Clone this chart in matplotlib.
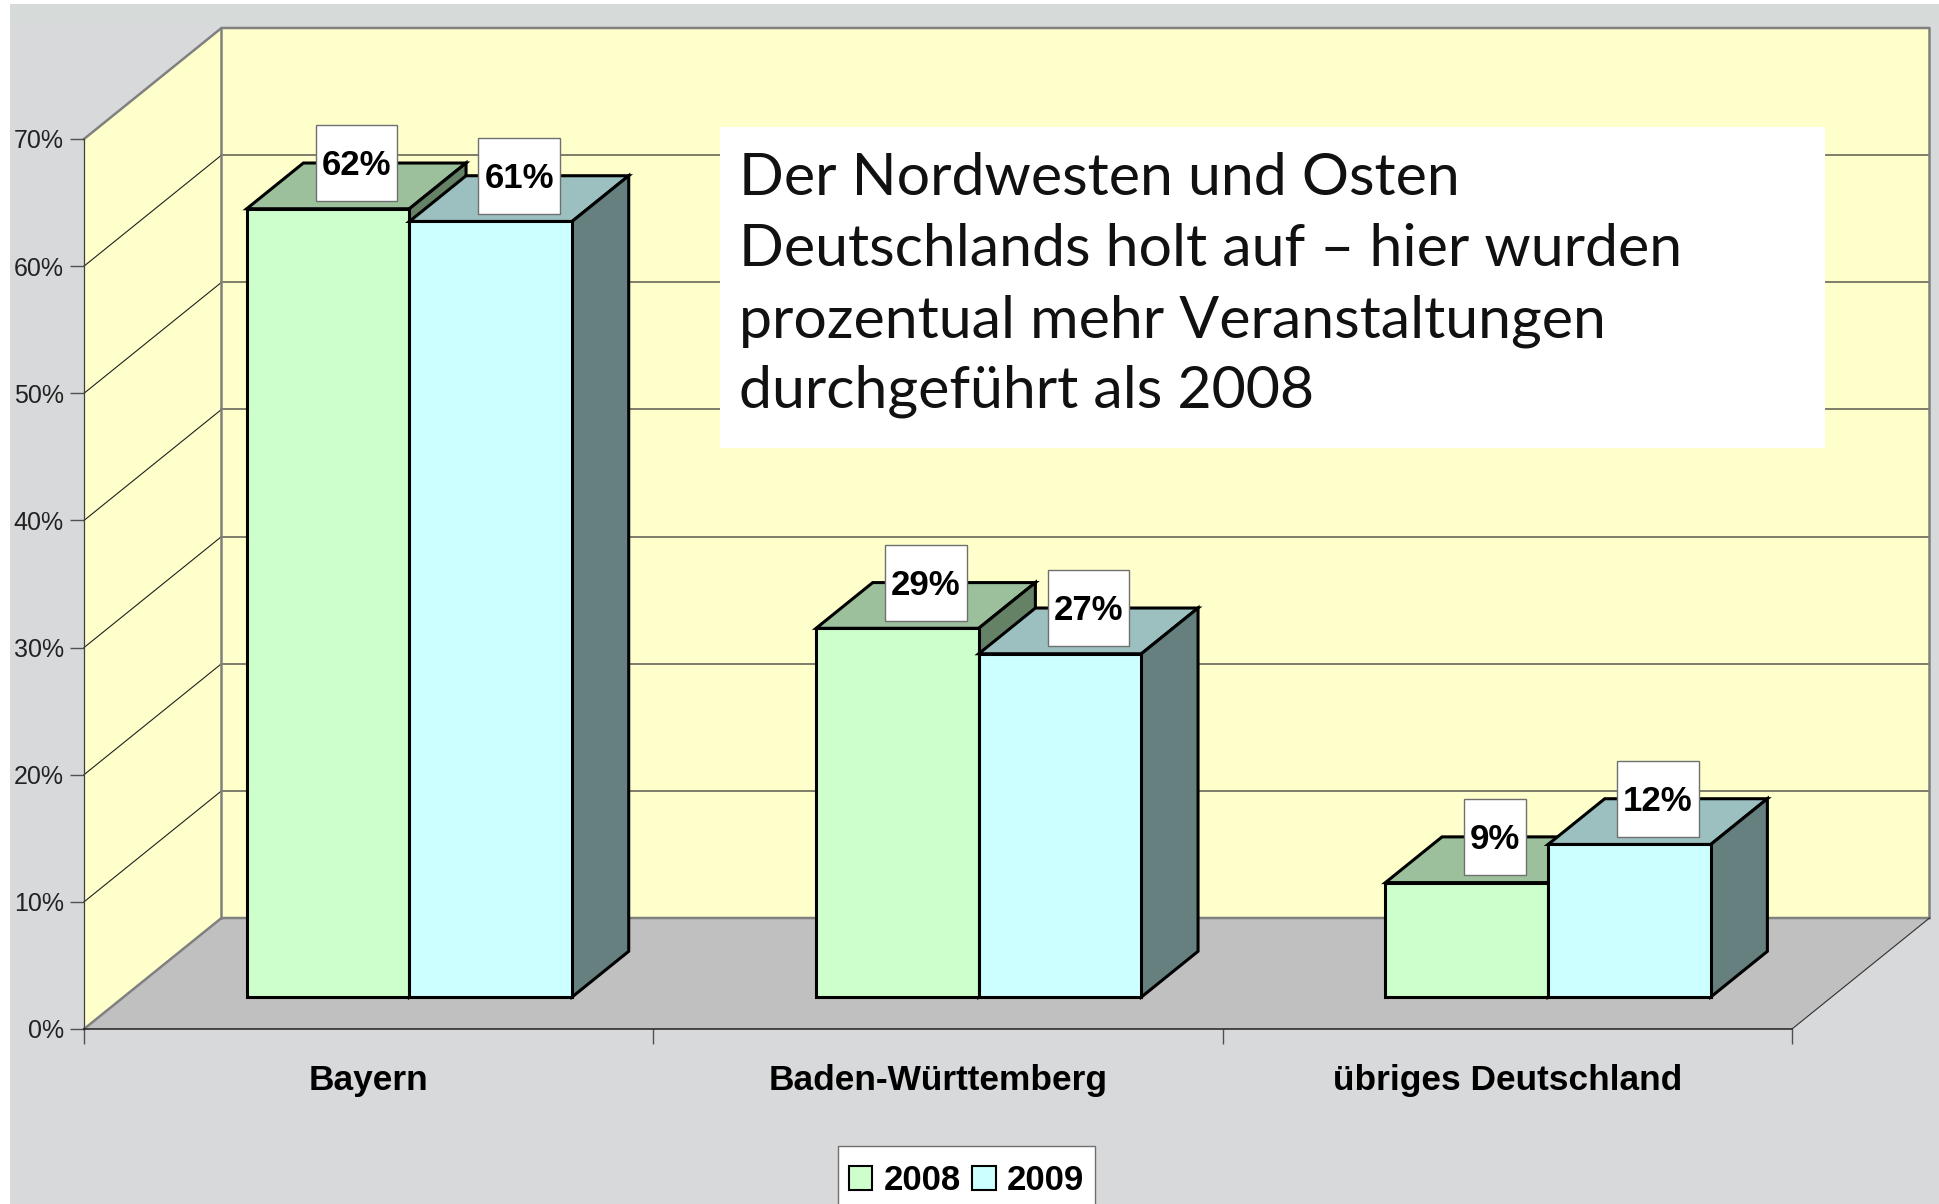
import matplotlib
matplotlib.use('Agg')
import matplotlib.pyplot as plt
from matplotlib.patches import Polygon, Rectangle, Patch

W, H = 1939, 1204

# data
categories = ['Bayern', 'Baden-Württemberg', 'übriges Deutschland']
series_names = ['2008', '2009']
values_2008 = [62, 29, 9]
values_2009 = [61, 27, 12]
y_ticks = [0, 10, 20, 30, 40, 50, 60, 70]
y_ticklabels = ['0%', '10%', '20%', '30%', '40%', '50%', '60%', '70%']
note_lines = ['Der Nordwesten und Osten',
              'Deutschlands holt auf – hier wurden',
              'prozentual mehr Veranstaltungen',
              'durchgeführt als 2008']

# colours per series: front, top, side
colors_2008 = ('#CCFFCC', '#9CC09C', '#668266')
colors_2009 = ('#CCFFFF', '#9CC0C0', '#668080')

# plot box in pixels
left, right, top, bottom = 84, 1792, 139, 1029
# oblique depth in axis units
depth_x = 137.5 / ((right - left) / 3)
depth_y = 111 / ((bottom - top) / 70)
bar_w = 1 / 3.5
bar_d0, bar_d1 = 0.288, 0.70


def px(x, y):
    return x / W, 1 - y / H


def proj(x, y, d=0.0):
    return x + d * depth_x, y + d * depth_y


fig = plt.figure(figsize=(W / 100, H / 100), dpi=100, facecolor='white')
plt.rcParams['font.family'] = ['Liberation Sans', 'DejaVu Sans']

# chart background
fig.patches.append(Rectangle(px(10, H), (W - 10) / W, (H - 4) / H, transform=fig.transFigure,
                             fc='#D8D9DB', ec='none', zorder=-5))
fig.patches.append(Rectangle(px(10, 26), (W - 10) / W, 22 / H, transform=fig.transFigure,
                             fc='#D6DAD9', ec='none', zorder=-4))

ax = fig.add_axes([left / W, 1 - bottom / H, (right - left) / W, (bottom - top) / H])
ax.patch.set_visible(False)
ax.set_xlim(0, 3)
ax.set_ylim(0, 70)


def poly(pts, fc, ec='none', lw=0.0, z=1):
    ax.add_patch(Polygon(pts, closed=True, fc=fc, ec=ec, lw=lw, zorder=z, clip_on=False,
                         joinstyle='miter'))


# walls and floor
poly([proj(0, 0, 1), proj(3, 0, 1), proj(3, 70, 1), proj(0, 70, 1)], '#FFFFCC')
poly([proj(0, 0), proj(0, 70), proj(0, 70, 1), proj(0, 0, 1)], '#FFFFCC')
poly([proj(0, 0), proj(0, 0, 1), proj(3, 0, 1), proj(3, 0)], '#C0C0C0')

# grid lines, back wall and side wall
for t in y_ticks[1:-1]:
    xs, ys = zip(proj(0, t), proj(0, t, 1), proj(3, t, 1))
    ax.plot(xs[:2], ys[:2], color='#202020', lw=0.8, clip_on=False, zorder=1.2)
    ax.plot(xs[1:], ys[1:], color='#5A5A50', lw=1.1, clip_on=False, zorder=1.2)

# wall edges
edges = [(proj(0, 70), proj(0, 70, 1), proj(3, 70, 1), proj(3, 0, 1)),
         (proj(0, 0), proj(0, 0, 1), proj(3, 0, 1)),
         (proj(0, 0, 1), proj(0, 70, 1))]
for e in edges:
    xs, ys = zip(*e)
    ax.plot(xs, ys, color='#808080', lw=1.8, clip_on=False, zorder=1.3)
xs, ys = zip(proj(3, 0), proj(3, 0, 1))
ax.plot(xs, ys, color='#303030', lw=0.8, clip_on=False, zorder=1.3)


def draw_bar(x0, val, cols):
    x1 = x0 + bar_w
    poly([proj(x0, val, bar_d0), proj(x1, val, bar_d0), proj(x1, val, bar_d1), proj(x0, val, bar_d1)],
         cols[1], 'black', 2.2, 2)
    poly([proj(x1, 0, bar_d0), proj(x1, val, bar_d0), proj(x1, val, bar_d1), proj(x1, 0, bar_d1)],
         cols[2], 'black', 2.2, 2)
    poly([proj(x0, 0, bar_d0), proj(x1, 0, bar_d0), proj(x1, val, bar_d0), proj(x0, val, bar_d0)],
         cols[0], 'black', 2.2, 2)


labels = []
for i in range(len(categories)):
    x0 = i + 0.75 * bar_w + 0.002
    for j, (v, c) in enumerate(zip((values_2008[i], values_2009[i]), (colors_2008, colors_2009))):
        xb = x0 + j * bar_w
        draw_bar(xb, v, c)
        # label sits over the middle of the bar's top face
        cx, cy = proj(xb + bar_w / 2, v, (bar_d0 + bar_d1) / 2)
        labels.append(ax.text(cx, cy + 1.8, f'{v}%', ha='center', va='center', fontsize=25,
                              fontweight='bold', color='black', zorder=4, clip_on=False))

# axes
for s in ('top', 'right'):
    ax.spines[s].set_visible(False)
ax.spines['left'].set_color('#404040')
ax.spines['left'].set_linewidth(0.9)
ax.spines['bottom'].set_color('#202020')
ax.spines['bottom'].set_linewidth(1.1)
ax.set_yticks(y_ticks, y_ticklabels)
ax.tick_params(axis='y', length=10, width=1.0, color='#505050', pad=4.5, labelsize=18, labelcolor='#222222')
ax.set_xticks([0, 1, 2, 3], ['', '', '', ''])
ax.set_xticks([0.5, 1.5, 2.5], categories, minor=True)
ax.tick_params(axis='x', which='major', length=11, width=1.0, color='#505050')
ax.tick_params(axis='x', which='minor', length=0, pad=25, labelsize=25.4)
for t in ax.get_xticklabels(minor=True):
    t.set_fontweight('bold')

# white boxes behind the value labels, text sits a bit low in them
fig.canvas.draw()
inv = ax.transData.inverted()
for t in labels:
    bb = t.get_window_extent()
    cx = (bb.x0 + bb.x1) / 2
    cy = (bb.y0 + bb.y1) / 2
    (xa, ya), (xb, yb) = inv.transform([(cx - bb.width / 2 - 6, cy - 38), (cx + bb.width / 2 + 6, cy + 38)])
    ax.add_patch(Rectangle((xa, ya), xb - xa, yb - ya, fc='white', ec='#707070', lw=1.0,
                           zorder=3, clip_on=False))
    t.set_y(t.get_position()[1] - 3 / ((bottom - top) / 70))

# note box
fig.patches.append(Rectangle(px(720, 448), (1825 - 720) / W, (448 - 127) / H, transform=fig.transFigure,
                             fc='white', ec='none', zorder=5))
for line, base in zip(note_lines, [195, 266, 338, 408]):
    fig.text(*px(739, base), line, family=['Lato', 'DejaVu Sans'], fontsize=42.5,
             color='#111111', va='baseline', ha='left', zorder=6)

# legend
fig.patches.append(Rectangle(px(838, H + 5), (1095 - 838) / W, (H + 5 - 1146) / H, transform=fig.transFigure,
                             fc='white', ec='#707070', lw=1.0, zorder=5))
handles = [Patch(fc=colors_2008[0], ec='black', lw=1.5, label=series_names[0]),
           Patch(fc=colors_2009[0], ec='black', lw=1.5, label=series_names[1])]
leg = fig.legend(handles=handles, ncol=2, loc='center', bbox_to_anchor=px(966.5, 1180.5), frameon=False,
                 prop={'size': 25, 'weight': 'bold'}, handlelength=0.68, handleheight=0.68,
                 handletextpad=0.32, columnspacing=0.34, borderpad=0, borderaxespad=0)
leg.set_zorder(7)

fig.savefig('out.png', dpi=100)
